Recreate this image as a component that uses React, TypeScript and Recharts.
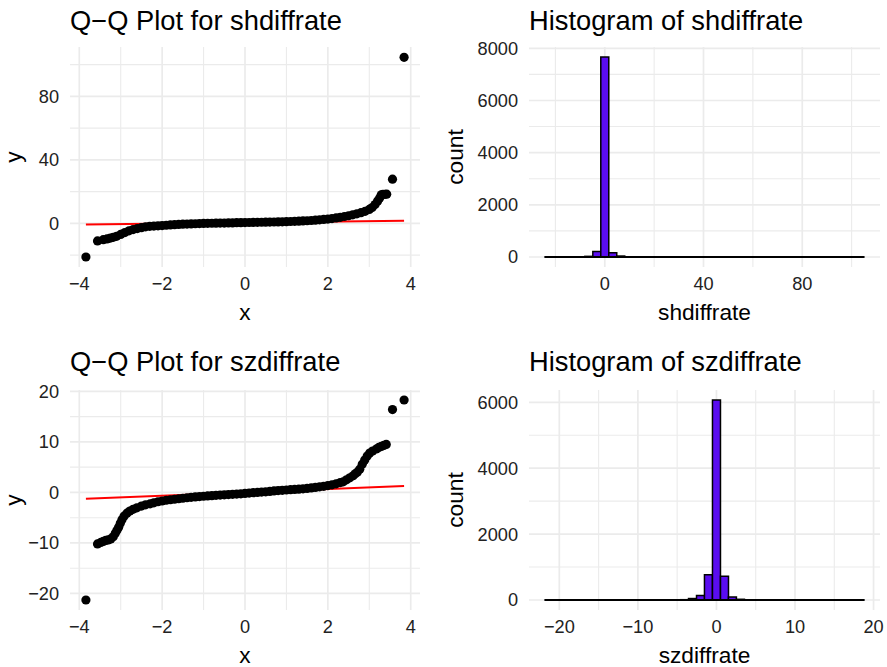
import React from 'react'
import { ComposedChart, Scatter, Bar, XAxis, YAxis, CartesianGrid, ReferenceLine } from 'recharts'

const FONT = '"Liberation Sans", Arial, Helvetica, sans-serif'

// ---- Q-Q plot for shdiffrate (theoretical quantile, sample quantile)
const shQqTheo = [
  -3.84, -3.56, -3.42, -3.33, -3.25, -3.18, -3.1, -3.0, -2.9, -2.8, -2.7, -2.6, -2.5, -2.4, -2.3, -2.2,
  -2.1, -2.0, -1.9, -1.8, -1.7, -1.6, -1.5, -1.4, -1.3, -1.2, -1.1, -1.0, -0.9, -0.8, -0.7, -0.6,
  -0.5, -0.4, -0.3, -0.2, -0.1, 0.0, 0.1, 0.2, 0.3, 0.4, 0.5, 0.6, 0.7, 0.8, 0.9, 1.0,
  1.1, 1.2, 1.3, 1.4, 1.5, 1.6, 1.7, 1.8, 1.9, 2.0, 2.1, 2.2, 2.3, 2.4, 2.5, 2.6,
  2.7, 2.8, 2.9, 3.0, 3.07, 3.14, 3.2, 3.25, 3.29, 3.33, 3.38, 3.42, 3.56, 3.84,
]
const shQqSample = [
  -21.2, -11.1, -10.3, -9.8, -9.3, -8.8, -8.2, -7.0, -5.8, -4.7, -3.9, -3.3, -2.7, -2.2, -1.9, -1.7,
  -1.55, -1.4, -1.2, -1.0, -0.85, -0.7, -0.55, -0.45, -0.35, -0.25, -0.15, -0.05, 0.0, 0.05, 0.1, 0.15,
  0.2, 0.25, 0.3, 0.4, 0.45, 0.5, 0.55, 0.6, 0.65, 0.7, 0.75, 0.8, 0.85, 0.9, 0.95, 1.05,
  1.15, 1.25, 1.35, 1.5, 1.65, 1.8, 2.0, 2.2, 2.45, 2.7, 3.0, 3.4, 3.8, 4.3, 4.8, 5.4,
  6.0, 6.7, 7.6, 8.8, 10.0, 11.8, 14.0, 16.0, 18.0, 18.3, 18.3, 18.4, 27.8, 104.6,
]
const shLineX = [-3.84, 3.84]
const shLineY = [-0.7, 1.7]

// ---- Q-Q plot for szdiffrate
const szQqTheo = [
  -3.84, -3.56, -3.48, -3.42, -3.36, -3.3, -3.24, -3.18, -3.13, -3.09, -3.05, -3.01, -2.97, -2.92, -2.85, -2.78,
  -2.7, -2.61, -2.5, -2.4, -2.29, -2.2, -2.1, -2.0, -1.9, -1.8, -1.7, -1.6, -1.5, -1.4, -1.3, -1.2,
  -1.1, -1.0, -0.9, -0.8, -0.7, -0.6, -0.5, -0.4, -0.3, -0.2, -0.1, 0.0, 0.1, 0.2, 0.3, 0.4,
  0.5, 0.6, 0.7, 0.8, 0.9, 1.0, 1.1, 1.2, 1.3, 1.4, 1.5, 1.6, 1.7, 1.8, 1.9, 2.0,
  2.1, 2.2, 2.3, 2.37, 2.45, 2.53, 2.61, 2.66, 2.71, 2.77, 2.83, 2.89, 2.95, 3.01, 3.08, 3.17,
  3.23, 3.29, 3.35, 3.41, 3.56, 3.84,
]
const szQqSample = [
  -21.3, -10.2, -9.9, -9.7, -9.5, -9.4, -9.2, -8.8, -8.1, -7.5, -6.9, -6.1, -5.4, -4.7, -4.1, -3.7,
  -3.35, -3.05, -2.7, -2.45, -2.25, -2.05, -1.85, -1.7, -1.55, -1.45, -1.35, -1.25, -1.15, -1.05, -0.97, -0.9,
  -0.83, -0.76, -0.7, -0.64, -0.58, -0.53, -0.48, -0.43, -0.38, -0.33, -0.28, -0.2, -0.12, -0.05, 0.0, 0.06,
  0.12, 0.2, 0.3, 0.36, 0.42, 0.48, 0.54, 0.6, 0.65, 0.72, 0.8, 0.9, 1.0, 1.1, 1.2, 1.35,
  1.5, 1.7, 1.95, 2.1, 2.5, 2.9, 3.3, 3.7, 4.0, 4.6, 5.6, 6.4, 7.2, 7.8, 8.2, 8.6,
  8.9, 9.1, 9.3, 9.5, 16.4, 18.3,
]
const szLineX = [-3.84, 3.84]
const szLineY = [-1.25, 1.25]

// ---- Histogram of shdiffrate (40 bins, mids and counts)
const shBinMids = [
  -22.62, -19.38, -16.15, -12.92, -9.69, -6.46, -3.23, 0, 3.23, 6.46, 9.69, 12.92, 16.15, 19.38,
  22.62, 25.85, 29.08, 32.31, 35.54, 38.77, 42.0, 45.23, 48.46, 51.69, 54.92, 58.15, 61.38,
  64.62, 67.85, 71.08, 74.31, 77.54, 80.77, 84.0, 87.23, 90.46, 93.69, 96.92, 100.15, 103.38,
]
const shCounts = [
  1, 0, 0, 0, 5, 25, 210, 7667, 160, 37, 6, 2, 1, 4, 0, 0, 1,
  0, 0, 0, 0, 0, 0, 0, 0, 0, 0, 0, 0, 0, 0, 0, 0, 0, 0, 0, 0, 0, 0,
  1,
]

// ---- Histogram of szdiffrate
const szBinMids = [
  -21.32, -20.31, -19.29, -18.28, -17.26, -16.25, -15.23, -14.22, -13.2, -12.18, -11.17, -10.15,
  -9.14, -8.12, -7.11, -6.09, -5.08, -4.06, -3.05, -2.03, -1.02, 0, 1.02, 2.03, 3.05, 4.06, 5.08,
  6.09, 7.11, 8.12, 9.14, 10.15, 11.17, 12.18, 13.2, 14.22, 15.23, 16.25, 17.26, 18.28,
]
const szCounts = [
  1, 0, 0, 0, 0, 0, 0, 0, 0, 0, 0,
  3, 5, 2, 2, 2, 3, 10, 45, 140, 770, 6070, 720, 90, 22, 8, 4, 3, 3, 5, 5,
  0, 0, 0, 0, 0, 0,
  1, 0, 1,
]

// ---- axis ticks (major) and minor grid values
const qqXTicks = [-4, -2, 0, 2, 4]
const qqXMinor = [-3, -1, 1, 3]
const shQqYTicks = [0, 40, 80]
const shQqYMinor = [-20, 20, 60, 100]
const szQqYTicks = [-20, -10, 0, 10, 20]
const szQqYMinor = [-15, -5, 5, 15]
const shHistXTicks = [0, 40, 80]
const shHistXMinor = [-20, 20, 60, 100]
const shHistYTicks = [0, 2000, 4000, 6000, 8000]
const shHistYMinor = [1000, 3000, 5000, 7000]
const szHistXTicks = [-20, -10, 0, 10, 20]
const szHistXMinor = [-15, -5, 5, 15]
const szHistYTicks = [0, 2000, 4000, 6000]
const szHistYMinor = [1000, 3000, 5000]

const zip = (xs: number[], ys: number[]) => xs.map((x, i) => ({ x, y: ys[i] }))
const histRows = (mids: number[], counts: number[]) => mids.map((x, i) => ({ x, count: counts[i] }))

const fmt = (v: number) => (v < 0 ? '\u2212' + Math.abs(v) : String(v))
const tickStyle = { fontSize: 18.2, fill: '#222', fontFamily: FONT }
const GRID = '#EBEBEB'

const dot = (p: any) => <circle cx={p.cx} cy={p.cy} r={4.6} fill="#000" />

function QQPanel({ x, y, lineX, lineY, yTicks, yMinor, xDomain, yDomain }: any) {
  const points = zip(x, y)
  const seg = zip(lineX, lineY)
  return (
    <ComposedChart width={443} height={333} margin={{ top: 47, right: 23, bottom: 36, left: 0 }}>
      <CartesianGrid horizontalValues={yMinor} verticalValues={qqXMinor} stroke={GRID} strokeWidth={1.1} />
      <CartesianGrid horizontalValues={yTicks} verticalValues={qqXTicks} stroke={GRID} strokeWidth={1.7} />
      <XAxis type="number" dataKey="x" domain={xDomain} allowDataOverflow ticks={qqXTicks} interval={0}
        axisLine={false} tickLine={false} tickSize={0} tickMargin={10} height={30} tick={tickStyle} tickFormatter={fmt} />
      <YAxis type="number" dataKey="y" domain={yDomain} allowDataOverflow ticks={yTicks} interval={0}
        axisLine={false} tickLine={false} tickSize={0} tickMargin={11} width={70} tick={tickStyle} tickFormatter={fmt} />
      <Scatter data={points} fill="#000" shape={dot} isAnimationActive={false} />
      <ReferenceLine segment={seg} stroke="#F00" strokeWidth={2} />
    </ComposedChart>
  )
}

function HistPanel({ mids, counts, xTicks, xMinor, yTicks, yMinor, xDomain, yDomain }: any) {
  const rows = histRows(mids, counts)
  const w = (mids[mids.length - 1] - mids[0]) / (mids.length - 1)
  const base = [{ x: mids[0] - w / 2, y: 0 }, { x: mids[mids.length - 1] + w / 2, y: 0 }]
  return (
    <ComposedChart width={444} height={333} data={rows} barCategoryGap={0} barGap={0}
      margin={{ top: 47, right: 7, bottom: 36, left: 0 }}>
      <CartesianGrid horizontalValues={yMinor} verticalValues={xMinor} stroke={GRID} strokeWidth={1.1} />
      <CartesianGrid horizontalValues={yTicks} verticalValues={xTicks} stroke={GRID} strokeWidth={1.7} />
      <XAxis type="number" dataKey="x" domain={xDomain} allowDataOverflow ticks={xTicks} interval={0}
        axisLine={false} tickLine={false} tickSize={0} tickMargin={10} height={30} tick={tickStyle} tickFormatter={fmt} />
      <YAxis type="number" domain={yDomain} allowDataOverflow ticks={yTicks} interval={0}
        axisLine={false} tickLine={false} tickSize={0} tickMargin={11} width={86} tick={tickStyle} tickFormatter={fmt} />
      <ReferenceLine segment={base} stroke="#000" strokeWidth={1.8} />
      <Bar dataKey="count" fill="#5A0DF0" stroke="#000" strokeWidth={1.5} isAnimationActive={false} />
    </ComposedChart>
  )
}

export default function App() {
  return (
    <div style={{ position: 'relative', width: 887, height: 667, background: '#fff', overflow: 'hidden', fontFamily: FONT }}>
      <style>{'body{margin:0}'}</style>
      <div style={{ position: 'absolute', left: 0, top: 0 }}>
        <QQPanel x={shQqTheo} y={shQqSample} lineX={shLineX} lineY={shLineY}
          yTicks={shQqYTicks} yMinor={shQqYMinor} xDomain={[-4.224, 4.224]} yDomain={[-27.5, 111.1]} />
      </div>
      <div style={{ position: 'absolute', left: 443, top: 0 }}>
        <HistPanel mids={shBinMids} counts={shCounts} xTicks={shHistXTicks} xMinor={shHistXMinor}
          yTicks={shHistYTicks} yMinor={shHistYMinor} xDomain={[-30.7, 111.5]} yDomain={[-383, 8050]} />
      </div>
      <div style={{ position: 'absolute', left: 0, top: 343 }}>
        <QQPanel x={szQqTheo} y={szQqSample} lineX={szLineX} lineY={szLineY}
          yTicks={szQqYTicks} yMinor={szQqYMinor} xDomain={[-4.224, 4.224]} yDomain={[-23.28, 20.28]} />
      </div>
      <div style={{ position: 'absolute', left: 443, top: 343 }}>
        <HistPanel mids={szBinMids} counts={szCounts} xTicks={szHistXTicks} xMinor={szHistXMinor}
          yTicks={szHistYTicks} yMinor={szHistYMinor} xDomain={[-23.86, 20.82]} yDomain={[-303, 6373]} />
      </div>
      <svg width={887} height={667} style={{ position: 'absolute', left: 0, top: 0, pointerEvents: 'none' }}
        fontFamily={FONT} fill="#000">
        <text x={70} y={29.5} fontSize={27.3}>Q{'\u2212'}Q Plot for shdiffrate</text>
        <text x={529} y={29.5} fontSize={27.3}>Histogram of shdiffrate</text>
        <text x={70} y={371} fontSize={27.3}>Q{'\u2212'}Q Plot for szdiffrate</text>
        <text x={529} y={371} fontSize={27.3}>Histogram of szdiffrate</text>
        <text x={245} y={320} fontSize={22.7} textAnchor="middle">x</text>
        <text x={704.5} y={320} fontSize={22.7} textAnchor="middle">shdiffrate</text>
        <text x={245} y={663} fontSize={22.7} textAnchor="middle">x</text>
        <text x={704.5} y={663} fontSize={22.7} textAnchor="middle">szdiffrate</text>
        <text x={20.5} y={157} fontSize={22.7} textAnchor="middle" transform="rotate(-90 20.5 157)">y</text>
        <text x={20.5} y={500} fontSize={22.7} textAnchor="middle" transform="rotate(-90 20.5 500)">y</text>
        <text x={463} y={157} fontSize={22.7} textAnchor="middle" transform="rotate(-90 463 157)">count</text>
        <text x={463} y={500} fontSize={22.7} textAnchor="middle" transform="rotate(-90 463 500)">count</text>
      </svg>
    </div>
  )
}
